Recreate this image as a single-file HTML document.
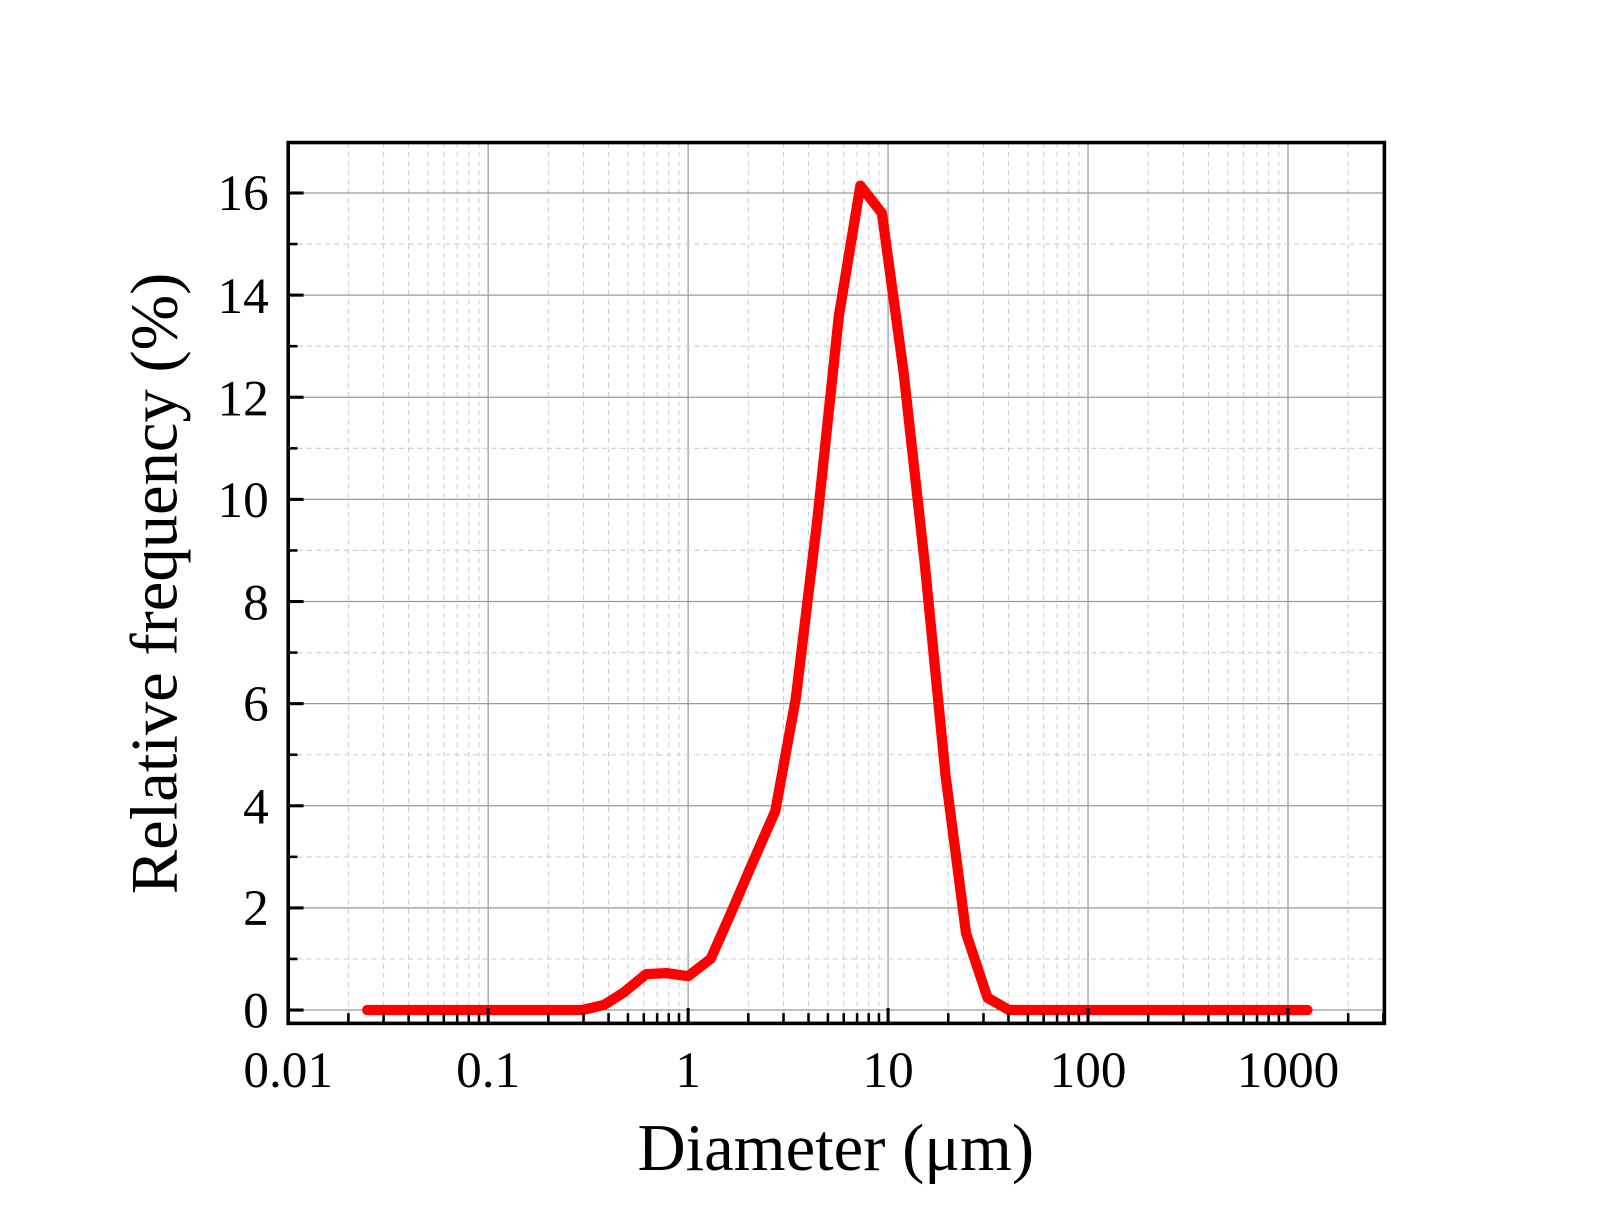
<!DOCTYPE html>
<html><head><meta charset="utf-8"><style>html,body{margin:0;padding:0;background:#fff}svg{display:block}</style></head>
<body>
<svg id="s" width="1608" height="1230" viewBox="0 0 1568 1199.5" xmlns="http://www.w3.org/2000/svg" font-family="Liberation Serif, serif">
<rect x="0" y="0" width="1568" height="1200" fill="#fff"/>
<g id="grid"></g>
<polyline fill="none" stroke="#ff0000" stroke-width="10" stroke-linejoin="round" stroke-linecap="round"
points="358,985 568,985 589,980 608,968 630,950 650,949 671,952 693,935 713,890 734,841 756,791 776,681 797,507 818,308 839,181 860,208 881,362 902,552 922,756 942,910 963,973 984,985 1275,985"/>
<g id="ticks"></g>
<rect x="281" y="139" width="1069" height="859" fill="none" stroke="#000" stroke-width="3.5"/>
<g font-size="50" text-anchor="end" fill="#000">
<text x="262" y="1002">0</text><text x="262" y="902">2</text><text x="262" y="803">4</text><text x="262" y="703">6</text><text x="262" y="604">8</text><text x="262" y="504">10</text><text x="262" y="405">12</text><text x="262" y="305">14</text><text x="262" y="205">16</text>
</g>
<g font-size="50" text-anchor="middle" fill="#000">
<text x="281" y="1060">0.01</text><text x="476" y="1060">0.1</text><text x="671" y="1060">1</text><text x="866" y="1060">10</text><text x="1061" y="1060">100</text><text x="1256" y="1060">1000</text>
</g>
<text x="815" y="1141" font-size="65" text-anchor="middle">Diameter (μm)</text>
<text transform="translate(172,569) rotate(-90)" font-size="65" text-anchor="middle">Relative frequency (%)</text>
</svg>
<script>
var ns="http://www.w3.org/2000/svg",g=document.getElementById("grid"),t=document.getElementById("ticks");
function L(p,x1,y1,x2,y2,c,w,d){var l=document.createElementNS(ns,"line");l.setAttribute("x1",x1);l.setAttribute("y1",y1);l.setAttribute("x2",x2);l.setAttribute("y2",y2);l.setAttribute("stroke",c);l.setAttribute("stroke-width",w);if(d)l.setAttribute("stroke-dasharray",d);p.appendChild(l);}
for(var d=0;d<6;d++){var x0=281+195*d;
 if(d>0){L(g,x0,139,x0,998,"#999",1.2);L(t,x0,998,x0,983,"#000",3);}
 for(var m=2;m<10;m++){var x=x0+195*Math.log10(m);if(x<1350){L(g,x,139,x,998,"#ccc",1,"5,4");L(t,x,998,x,988,"#000",2.5);}}}
for(var v=0;v<=17;v++){var y=985-v*49.8;if(y<140)continue;
 if(v%2==0){L(g,281,y,1350,y,"#999",1.2);L(t,281,y,296,y,"#000",3);}
 else{L(g,281,y,1350,y,"#ccc",1,"5,4");L(t,281,y,290,y,"#000",2.5);}}
</script>
</body></html>
